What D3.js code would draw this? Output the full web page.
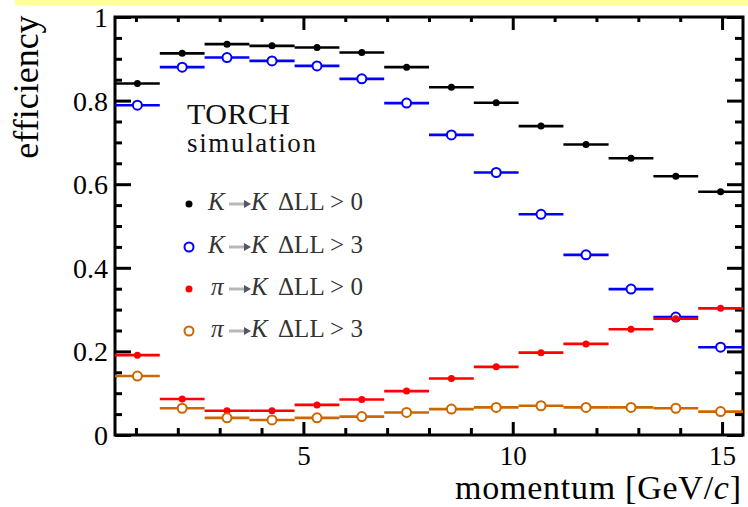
<!DOCTYPE html>
<html>
<head>
<meta charset="utf-8">
<script src="https://cdn.jsdelivr.net/npm/d3@7"></script>
<style>
  body { margin: 0; background: #fff; }
  svg { display: block; }
  text { font-family: "Liberation Serif", "Times New Roman", serif; }
</style>
</head>
<body>
<script>
// Momentum bin edges (GeV/c)
const binEdges = [0.5, 1.57, 2.64, 3.71, 4.79, 5.86, 6.93, 8.0, 9.07, 10.14, 11.21, 12.29, 13.36, 14.43, 15.5];

// Efficiencies per bin
const kToK0 = [0.841, 0.913, 0.935, 0.931, 0.927, 0.915, 0.880, 0.832, 0.795, 0.739, 0.695, 0.662, 0.619, 0.582];
const kToK3 = [0.789, 0.880, 0.903, 0.895, 0.883, 0.852, 0.794, 0.718, 0.628, 0.528, 0.431, 0.349, 0.282, 0.210];
const piToK0 = [0.191, 0.086, 0.058, 0.058, 0.072, 0.085, 0.105, 0.135, 0.163, 0.197, 0.218, 0.253, 0.278, 0.303];
const piToK3 = [0.141, 0.064, 0.041, 0.036, 0.041, 0.044, 0.054, 0.062, 0.066, 0.070, 0.066, 0.066, 0.064, 0.056];

// Axis ticks
const yMajor = [0, 0.2, 0.4, 0.6, 0.8, 1];
const yMinor = [0.05, 0.1, 0.15, 0.25, 0.3, 0.35, 0.45, 0.5, 0.55, 0.65, 0.7, 0.75, 0.85, 0.9, 0.95];
const xMajor = [5, 10, 15];
const xMinor = [1, 2, 3, 4, 6, 7, 8, 9, 11, 12, 13, 14];

const series = [
  { values: kToK0, color: "#000000", open: false, particle: "K", cut: "ΔLL > 0" },
  { values: kToK3, color: "#0000ff", open: true, particle: "K", cut: "ΔLL > 3" },
  { values: piToK0, color: "#ff0000", open: false, particle: "π", cut: "ΔLL > 0" },
  { values: piToK3, color: "#cc6600", open: true, particle: "π", cut: "ΔLL > 3" }
];

const W = 748, H = 507;
const svg = d3.select("body").append("svg")
  .attr("width", W)
  .attr("height", H);

// Yellow strip across the top of the page
svg.append("rect")
  .attr("x", 15).attr("y", 0)
  .attr("width", W - 15).attr("height", 5)
  .attr("fill", "#ffff99");

const x = d3.scaleLinear().domain([0.5, 15.5]).range([115, 743]);
const y = d3.scaleLinear().domain([0, 1]).range([435, 17]);

// Axes: ticks point inwards, on all four sides
function addAxis(axis, tx, ty, ticks, size, labels) {
  const g = svg.append("g")
    .attr("transform", `translate(${tx},${ty})`)
    .call(axis.tickValues(ticks).tickSizeInner(-size).tickSizeOuter(0)
      .tickPadding(7).tickFormat(labels ? d3.format("") : ""));
  g.select(".domain").remove();
  g.selectAll(".tick line").attr("stroke", "#000").attr("stroke-width", 3);
  return g;
}

const yAx = addAxis(d3.axisLeft(y), 115, 0, yMajor, 16, true);
yAx.selectAll("text").attr("font-size", 28).attr("fill", "#000")
  .attr("font-family", "Liberation Serif").attr("dy", "0.34em");
addAxis(d3.axisLeft(y), 115, 0, yMinor, 7, false);
addAxis(d3.axisRight(y), 743, 0, yMajor, 16, false);
addAxis(d3.axisRight(y), 743, 0, yMinor, 8, false);

const xAx = addAxis(d3.axisBottom(x), 0, 435, xMajor, 13, true);
xAx.selectAll("text").attr("font-size", 27).attr("fill", "#000")
  .attr("font-family", "Liberation Serif").attr("y", 30).attr("dy", null);
addAxis(d3.axisBottom(x), 0, 435, xMinor, 7, false);
addAxis(d3.axisTop(x), 0, 17, xMajor, 13, false);
addAxis(d3.axisTop(x), 0, 17, xMinor, 5, false);

// Frame
svg.append("rect")
  .attr("x", 115).attr("y", 17)
  .attr("width", 743 - 115).attr("height", 435 - 17)
  .attr("fill", "none").attr("stroke", "#000").attr("stroke-width", 3);

// Axis titles
svg.append("text")
  .attr("x", 741).attr("y", 499)
  .attr("text-anchor", "end")
  .attr("font-size", 34)
  .attr("fill", "#000")
  .attr("textLength", 286)
  .html('momentum [GeV/<tspan font-style="italic">c</tspan>]');

svg.append("text")
  .attr("transform", "translate(38,87) rotate(-90)")
  .attr("text-anchor", "middle")
  .attr("font-size", 36)
  .attr("fill", "#000")
  .text("efficiency");

// Data: horizontal bars over the bin width plus a marker in the bin centre
series.forEach(s => {
  const g = svg.append("g");
  const bins = s.values.map((v, i) => ({ lo: binEdges[i], hi: binEdges[i + 1], v }));
  g.selectAll("line").data(bins).join("line")
    .attr("x1", d => x(d.lo)).attr("x2", d => x(d.hi))
    .attr("y1", d => y(d.v)).attr("y2", d => y(d.v))
    .attr("stroke", s.color).attr("stroke-width", 2.6);
  g.selectAll("circle").data(bins).join("circle")
    .attr("cx", d => x((d.lo + d.hi) / 2))
    .attr("cy", d => y(d.v))
    .attr("r", s.open ? 4.5 : 3.5)
    .attr("fill", s.open ? "#fff" : s.color)
    .attr("stroke", s.color)
    .attr("stroke-width", s.open ? 2 : 0);
});

// Label block
svg.append("text")
  .attr("x", 187).attr("y", 124)
  .attr("font-size", 30)
  .attr("fill", "#111")
  .attr("textLength", 103)
  .text("TORCH");
svg.append("text")
  .attr("x", 187).attr("y", 152)
  .attr("font-size", 27)
  .attr("font-family", "Liberation Serif")
  .attr("fill", "#111")
  .attr("textLength", 129)
  .text("simulation");

// Legend
const legendY = [204, 247, 289, 331];
series.forEach((s, i) => {
  const cy = legendY[i];
  svg.append("circle")
    .attr("cx", 189).attr("cy", cy)
    .attr("r", s.open ? 4.5 : 3.5)
    .attr("fill", s.open ? "#fff" : s.color)
    .attr("stroke", s.color)
    .attr("stroke-width", s.open ? 2 : 0);

  const t = svg.append("g").attr("fill", "#333").attr("font-size", 25);
  t.append("text")
    .attr("x", s.particle === "K" ? 208 : 211).attr("y", cy + 6)
    .attr("font-style", "italic")
    .text(s.particle);
  // arrow
  t.append("line")
    .attr("x1", 229).attr("x2", 246)
    .attr("y1", cy).attr("y2", cy)
    .attr("stroke", "#b8b8b8").attr("stroke-width", 3);
  t.append("path")
    .attr("d", `M244,${cy - 4}L251,${cy}L244,${cy + 4}Z`)
    .attr("fill", "#556");
  t.append("text")
    .attr("x", 251).attr("y", cy + 6)
    .attr("font-style", "italic")
    .text("K");
  t.append("text")
    .attr("x", 278).attr("y", cy + 6)
    .attr("textLength", 85)
    .text(s.cut);
});
</script>
</body>
</html>
